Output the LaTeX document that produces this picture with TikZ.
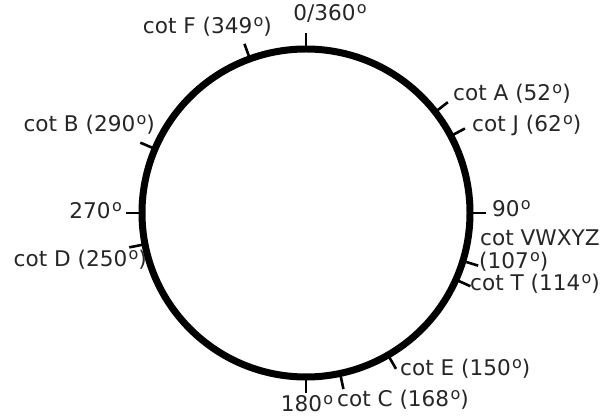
\documentclass[tikz,border=0pt]{standalone}
\usepackage{fontspec}
\setmainfont{DejaVu Sans}
\usetikzlibrary{calc}
\newcommand\dg{\kern0.06em\raisebox{0.34em}{\fontsize{16}{16}\selectfont o}}
\tikzset{
  ring/.style={line width=7pt},
  tickmark/.style={line width=2.6pt},
  lbl/.style={inner sep=0pt, font=\fontsize{21.6}{24}\selectfont, text=black!85, text height=0.75em, text depth=0.2em}
}
\begin{document}
\begin{tikzpicture}[x=1pt,y=1pt]
\useasboundingbox (0,0) rectangle (609,419);
\coordinate (C) at (306,206);
\draw[ring] (C) circle (164);
\foreach \a in {0,340,52,62,90,107,114,293,270,259,150,180,168}{
  \draw[tickmark] ($(C)+(90-\a:164)$) -- ($(C)+(90-\a:180)$);
}
\node[lbl] (l0) at (330,401) {0/360\dg};
\node[lbl, anchor=east] (lF) at (272,388) {cot F (349\dg)};
\node[lbl, anchor=west] (lA) at (453,321) {cot A (52\dg)};
\node[lbl, anchor=west] (lJ) at (472,290) {cot J (62\dg)};
\node[lbl, anchor=west] (l90) at (492,205) {90\dg};
\node[lbl, anchor=west] (lV) at (480,176) {cot VWXYZ};
\node[lbl, anchor=west] (lV2) at (479,153) {(107\dg)};
\node[lbl, anchor=west] (lT) at (470,131) {cot T (114\dg)};
\node[lbl, anchor=east] (lB) at (155,290) {cot B (290\dg)};
\node[lbl, anchor=east] (l270) at (122,203) {270\dg};
\node[lbl, anchor=east] (lD) at (147,155) {cot D (250\dg)};
\node[lbl, anchor=west] (lE) at (400,46) {cot E (150\dg)};
\node[lbl] (l180) at (307,10) {180\dg};
\node[lbl, anchor=west] (lC) at (337,15) {cot C (168\dg)};
\end{tikzpicture}
\end{document}
